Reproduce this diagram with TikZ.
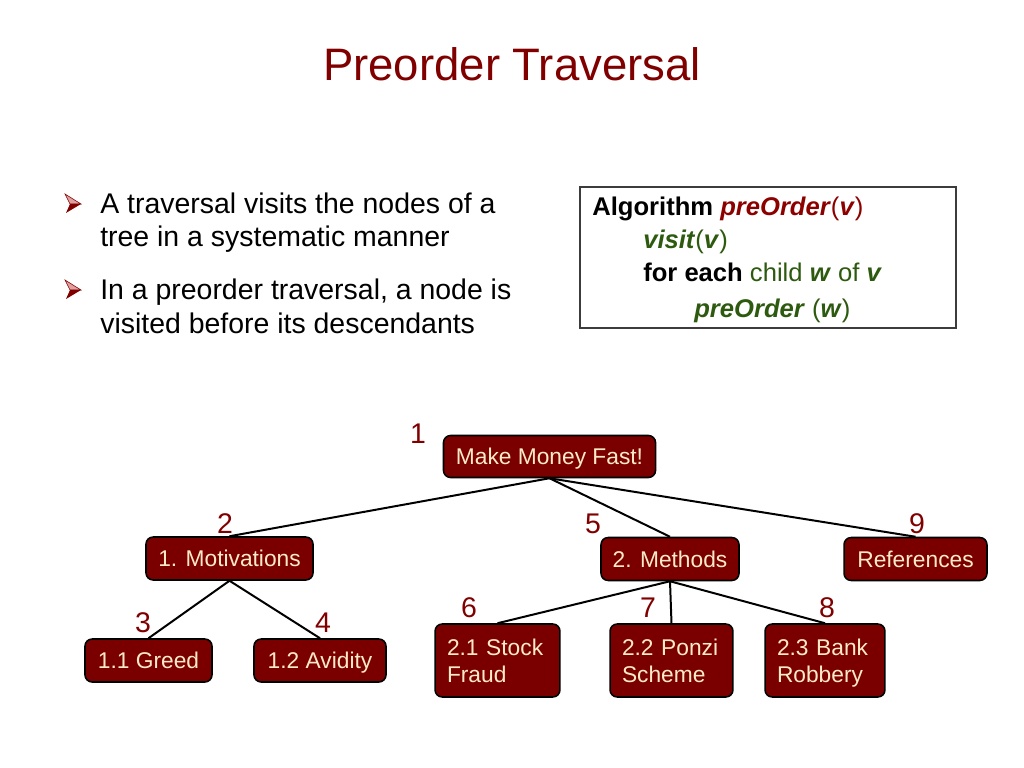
\documentclass[tikz,border=0pt]{standalone}
\usepackage{fontspec}
\setmainfont{Liberation Sans}
\definecolor{dred}{RGB}{128,0,0}
\definecolor{nodefill}{RGB}{122,0,0}
\definecolor{nodetext}{RGB}{255,234,200}
\definecolor{algred}{RGB}{140,0,0}
\definecolor{alggreen}{RGB}{45,90,15}
\definecolor{bullight}{RGB}{225,160,160}
\definecolor{boxline}{RGB}{60,60,60}
\begin{document}
\begin{tikzpicture}[x=0.703125pt,y=-0.703125pt,
  tnode/.style={draw=black, line width=1.1pt, fill=nodefill, rounded corners=5pt,
    text=nodetext, font=\fontsize{16}{19.2}\selectfont, inner sep=0pt},
  tnodeone/.style={tnode, text height=11.46pt, text depth=0pt, minimum height=30.2pt},
  tnodetwo/.style={tnode, align=left, inner xsep=8.4pt, text width=#1, minimum height=51.3pt},
  num/.style={text=dred, font=\fontsize{20}{24}\selectfont, inner sep=0pt},
  edge/.style={line width=1.4pt, black},
  bul/.style={font=\fontsize{20}{24}\selectfont, inner sep=0pt, anchor=base west},
  alg/.style={font=\fontsize{18}{21.6}\selectfont, inner sep=0pt, anchor=base west},
  arrowbul/.pic={
    \filldraw[fill=bullight, draw=dred, line width=0.4pt] (-8,-10) -- (8,0) -- (-3,0) -- cycle;
    \fill[dred] (-3,0) -- (8,0) -- (-7,9) -- cycle;
  }]
\useasboundingbox (0,0) rectangle (1024,768);
\fill[white] (0,0) rectangle (1024,768);

% title
\node[font=\fontsize{32}{38}\selectfont, text=dred, inner sep=0pt, anchor=base] (title) at (512,81) {Preorder Traversal};

% bullets
\pic at (73,204) {arrowbul};
\pic at (73,290) {arrowbul};
\node[bul] (b1a) at (100,214) {A traversal visits the nodes of a};
\node[bul] (b1b) at (100,247) {tree in a systematic manner};
\node[bul] (b2a) at (100,300) {In a preorder traversal, a node is};
\node[bul] (b2b) at (100,333) {visited before its descendants};

% algorithm box
\node[draw=boxline, line width=0.9pt, minimum width=264.4pt, minimum height=99.1pt, inner sep=0pt] (algbox) at (768,257.5) {};
\node[alg] (a1) at (592,216) {\textbf{Algorithm} \textcolor{algred}{\textbf{\textit{preOrder}}(\textbf{\textit{v}})}};
\node[alg, text=alggreen] (a2) at (643,249) {\textbf{\textit{visit}}(\textbf{\textit{v}})};
\node[alg] (a3) at (643,282) {\textbf{for each} \textcolor{alggreen}{child \textbf{\textit{w}} of \textbf{\textit{v}}}};
\node[alg, text=alggreen] (a4) at (694,317) {\textbf{\textit{preOrder}} (\textbf{\textit{w}})};

% tree nodes
\node[tnodeone, minimum width=149.1pt, minimum height=29.5pt] (root) at (549.5,456.5) {Make Money Fast!};
\node[tnodeone, minimum width=117.4pt] (mot) at (229.5,558.5) {1. Motivations};
\node[tnodeone, minimum width=97pt] (meth) at (670,559) {2. Methods};
\node[tnodeone, minimum width=100.5pt] (refs) at (915.5,559) {References};
\node[tnodeone, minimum width=89.3pt] (greed) at (148.5,660.5) {1.1 Greed};
\node[tnodeone, minimum width=92.8pt] (avid) at (320,660.5) {1.2 Avidity};
\node[tnodetwo=71pt] (stock) at (497.5,660.5) {2.1 Stock\\\smash{Fraud}};
\node[tnodetwo=69.6pt] (ponzi) at (671.5,660.5) {2.2 Ponzi\\\smash{Scheme}};
\node[tnodetwo=67.5pt] (bank) at (825,660.5) {2.3 Bank\\\smash{Robbery}};

% edges
\draw[edge] (root.south) -- (mot.north);
\draw[edge] (root.south) -- (meth.north);
\draw[edge] (root.south) -- (refs.north);
\draw[edge] (mot.south) -- (greed.north);
\draw[edge] (mot.south) -- (avid.north);
\draw[edge] (meth.south) -- (stock.north);
\draw[edge] (meth.south) -- (ponzi.north);
\draw[edge] (meth.south) -- (bank.north);

% order numbers
\node[num] (n1) at (418,434) {1};
\node[num] (n2) at (225,524) {2};
\node[num] (n3) at (143,623) {3};
\node[num] (n4) at (323,623) {4};
\node[num] (n5) at (593,524) {5};
\node[num] (n6) at (469,608) {6};
\node[num] (n7) at (648,608) {7};
\node[num] (n8) at (827,608) {8};
\node[num] (n9) at (917,524) {9};
\end{tikzpicture}
\end{document}
